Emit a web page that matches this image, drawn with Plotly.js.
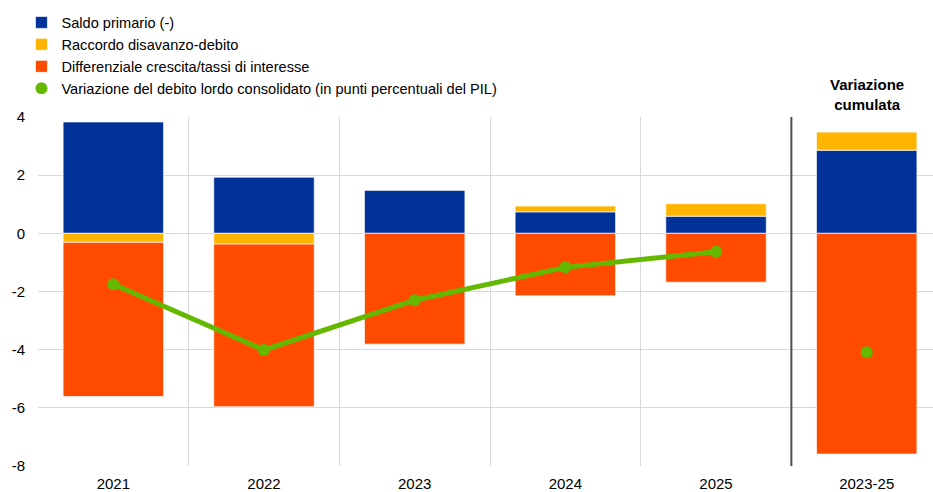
<!DOCTYPE html>
<html>
<head>
<meta charset="utf-8">
<script src="https://cdn.plot.ly/plotly-3.0.1.min.js"></script>
<style>
  body { margin: 0; }
  #plot { width: 933px; height: 492px; }
</style>
</head>
<body>
<div id="plot"></div>
<script>
// categories on the x axis
var periods = ["2021", "2022", "2023", "2024", "2025", "2023-25"];

// components of the change in debt (percentage points of GDP)
var saldoPrimario = [3.83, 1.93, 1.49, 0.74, 0.59, 2.86];
var raccordo = [-0.31, -0.37, 0, 0.20, 0.43, 0.62];
var differenziale = [-5.30, -5.59, -3.81, -2.15, -1.68, -7.59];
var variazioneDebito = [-1.75, -4.01, -2.30, -1.17, -0.63, -4.09];

// y tick labels (plain hyphen, as in the original)
var yTickVals = [4, 2, 0, -2, -4, -6, -8];
var yTickText = ["4", "2", "0", "-2", "-4", "-6", "-8"];

// the annual points are joined by a line, the cumulated one is not
var annualPeriods = periods.slice(0, 5);
var annualDebito = variazioneDebito.slice(0, 5);

var edge = { color: "rgba(255,255,255,0.7)", width: 1 };

var traces = [
  {
    type: "bar", name: "Saldo primario (-)",
    x: periods, y: saldoPrimario,
    marker: { color: "#003299", line: edge }, width: 0.667
  },
  {
    type: "bar", name: "Raccordo disavanzo-debito",
    x: periods, y: raccordo,
    marker: { color: "#FFB400", line: edge }, width: 0.667
  },
  {
    type: "bar", name: "Differenziale crescita/tassi di interesse",
    x: periods, y: differenziale,
    marker: { color: "#FF4B00", line: edge }, width: 0.667
  },
  {
    type: "scatter", mode: "lines", showlegend: false,
    x: annualPeriods, y: annualDebito,
    line: { color: "#65B800", width: 5 }
  },
  {
    type: "scatter", mode: "markers",
    name: "Variazione del debito lordo consolidato (in punti percentuali del PIL)",
    x: periods, y: variazioneDebito,
    marker: { color: "#65B800", size: 12 }
  }
];

var layout = {
  width: 933, height: 492,
  margin: { l: 38, r: 0, t: 117, b: 26, autoexpand: false },
  paper_bgcolor: "white", plot_bgcolor: "white",
  font: { family: "Arial, 'Liberation Sans', sans-serif", size: 15, color: "#000" },
  barmode: "relative",
  showlegend: true,
  legend: {
    xref: "container", yref: "container",
    x: 0.023, y: 0.987, xanchor: "left", yanchor: "top",
    font: { size: 14.6 },
    traceorder: "normal",
    itemwidth: 30,
    bgcolor: "rgba(0,0,0,0)"
  },
  xaxis: {
    type: "category",
    range: [-0.5, 5.44],
    tickson: "boundaries",
    showgrid: true, gridcolor: "#d9d9d9", gridwidth: 1,
    ticks: "", ticklen: 0,
    ticklabelstandoff: 7,
    showline: false, zeroline: false,
    tickfont: { size: 15 },
    fixedrange: true
  },
  yaxis: {
    range: [-8, 4],
    tickmode: "array", tickvals: yTickVals, ticktext: yTickText,
    showgrid: true, gridcolor: "#d9d9d9", gridwidth: 1,
    zeroline: true, zerolinecolor: "#d9d9d9", zerolinewidth: 1,
    ticks: "", tickfont: { size: 15 },
    ticklabelstandoff: 12,
    fixedrange: true
  },
  shapes: [
    {
      type: "line", xref: "x", yref: "y",
      x0: 4.5, x1: 4.5, y0: -8, y1: 4,
      line: { color: "#4d4d4d", width: 2 }
    }
  ],
  annotations: [
    {
      text: "<b>Variazione<br>cumulata</b>",
      xref: "x", yref: "paper",
      x: 5, y: 1.005, xanchor: "center", yanchor: "bottom",
      showarrow: false,
      font: { size: 15 }
    }
  ]
};

Plotly.newPlot("plot", traces, layout, { displayModeBar: false, staticPlot: true });
</script>
</body>
</html>
